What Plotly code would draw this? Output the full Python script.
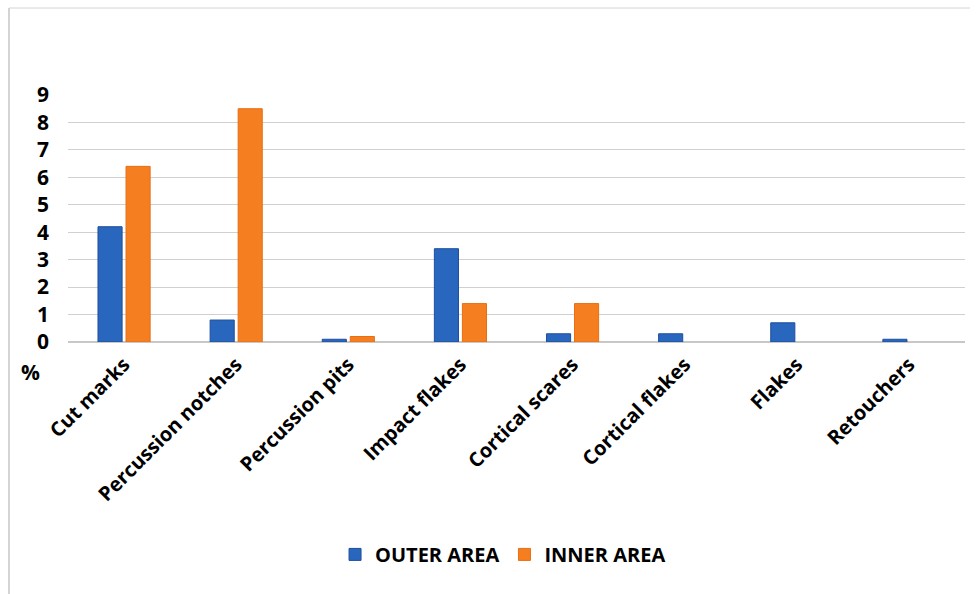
import plotly.graph_objects as go

categories = ["Cut marks", "Percussion notches", "Percussion pits", "Impact flakes",
              "Cortical scares", "Cortical flakes", "Flakes", "Retouchers"]
outer_area = [4.2, 0.8, 0.1, 3.4, 0.3, 0.3, 0.7, 0.1]
inner_area = [6.4, 8.5, 0.2, 1.4, 1.4, None, None, None]
y_ticks = [0, 1, 2, 3, 4, 5, 6, 7, 8, 9]

fig = go.Figure()
fig.add_trace(go.Bar(x=categories, y=outer_area, name="OUTER AREA",
                     marker=dict(color="#2966BE", line=dict(color="#1E4F9C", width=1))))
fig.add_trace(go.Bar(x=categories, y=inner_area, name="INNER AREA",
                     marker=dict(color="#F57F20", line=dict(color="#E86E12", width=1))))

font_family = "Open Sans, sans-serif"
fig.update_layout(
    width=978, height=594,
    margin=dict(l=68, r=13, t=95, b=252),
    paper_bgcolor="white", plot_bgcolor="white",
    barmode="group", bargap=0.5, bargroupgap=0.14,
    font=dict(family=font_family, color="black"),
    showlegend=True,
    legend=dict(orientation="h", x=0.485, xanchor="center", y=-0.86, yanchor="middle",
                font=dict(size=20, family=font_family, weight="bold"),
                itemwidth=30, traceorder="normal"),
    xaxis=dict(tickangle=-45, tickfont=dict(size=20, family=font_family, weight="bold"),
               showline=False, ticks="", showgrid=False, ticklabelstandoff=6),
    yaxis=dict(range=[0, 9], tickvals=y_ticks, showgrid=True, gridcolor="#D0D0D0",
               gridwidth=1, zeroline=True, zerolinecolor="#C8C8C8", zerolinewidth=1.5,
               tickfont=dict(size=21, family=font_family, weight="bold"),
               ticks="", ticklabelstandoff=18, showline=False),
    annotations=[
        dict(text="%", xref="paper", yref="paper", x=-38/897, y=-30/247,
             xanchor="center", yanchor="middle", showarrow=False,
             font=dict(size=21, family=font_family, weight="bold")),
    ],
)
# light frame around chart (left and top)
fig.add_shape(type="line", xref="paper", yref="paper",
              x0=-59/897, x1=1 + 5/897, y0=1 + 87/247, y1=1 + 87/247,
              line=dict(color="#D4D4D4", width=1))
fig.add_shape(type="line", xref="paper", yref="paper",
              x0=-59/897, x1=-59/897, y0=1 + 87/247, y1=-252/247,
              line=dict(color="#D4D4D4", width=2))

fig.write_html("out.html")
